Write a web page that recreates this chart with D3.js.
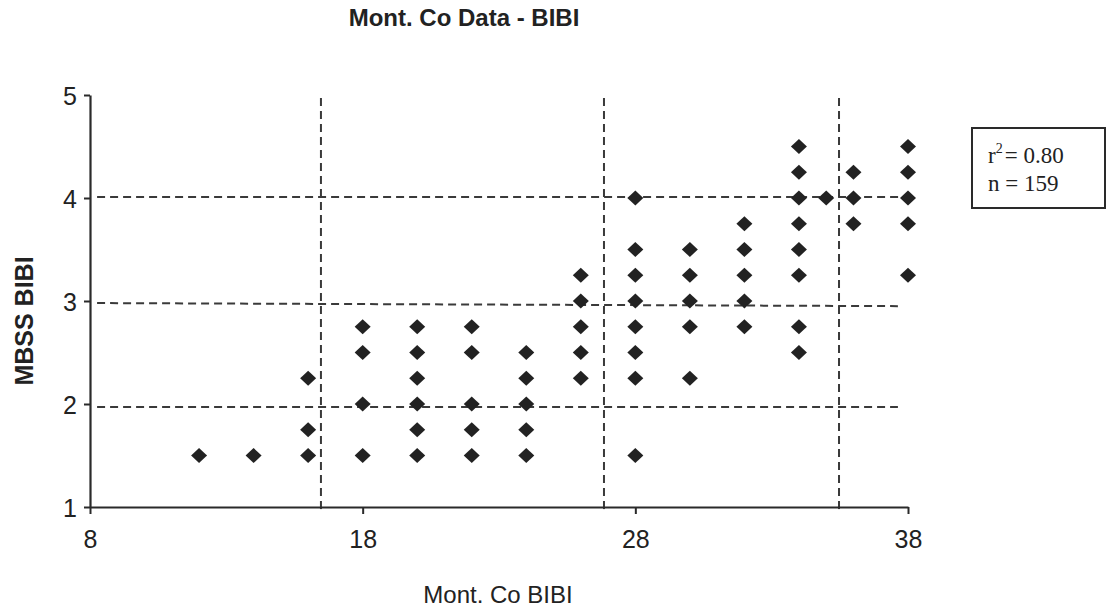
<!DOCTYPE html>
<html><head><meta charset="utf-8">
<script src="https://cdn.jsdelivr.net/npm/d3@7"></script>
<style>body{margin:0;background:#fff}svg{display:block}</style>
</head><body><svg id="c" width="1110" height="609"></svg>
<script>
// Data
const xTicks = [8, 18, 28, 38];
const yTicks = [1, 2, 3, 4, 5];
const xCats = [12, 14, 16, 18, 20, 22, 24, 26, 28, 30, 32, 34, 35, 36, 38];
const yByX = [
  [1.5],
  [1.5],
  [1.5, 1.75, 2.25],
  [1.5, 2, 2.5, 2.75],
  [1.5, 1.75, 2, 2.25, 2.5, 2.75],
  [1.5, 1.75, 2, 2.5, 2.75],
  [1.5, 1.75, 2, 2.25, 2.5],
  [2.25, 2.5, 2.75, 3, 3.25],
  [1.5, 2.25, 2.5, 2.75, 3, 3.25, 3.5, 4],
  [2.25, 2.75, 3, 3.25, 3.5],
  [2.75, 3, 3.25, 3.5, 3.75],
  [2.5, 2.75, 3.25, 3.5, 3.75, 4, 4.25, 4.5],
  [4],
  [3.75, 4, 4.25],
  [3.25, 3.75, 4, 4.25, 4.5]
];
// dashed reference lines (data units)
const vLineX = [16.47, 26.85, 35.47];
const vLineY = [0.97, 4.97];
const hLineY1 = [4.01, 2.98, 1.97];
const hLineY2 = [4.01, 2.95, 1.97];
const hLineX1 = [8.26, 8.26, 8.26];
const hLineX2 = [37.96, 37.63, 37.63];
const title = "Mont. Co Data - BIBI";
const xTitle = "Mont. Co BIBI";
const yTitle = "MBSS BIBI";

const svg = d3.select("#c");
const x = d3.scaleLinear().domain([8, 38]).range([90, 908]);
const y = d3.scaleLinear().domain([1, 5]).range([507, 95]);
const ink = "#2a2a2a";

// dashed lines
const g = svg.append("g").attr("stroke", "#3a3a3a").attr("stroke-width", 2).attr("stroke-dasharray", "8,5").attr("fill", "none");
hLineY1.forEach((v, i) => {
  g.append("line").attr("x1", x(hLineX1[i])).attr("x2", x(hLineX2[i]))
    .attr("y1", y(v)).attr("y2", y(hLineY2[i]));
});
vLineX.forEach(v => {
  g.append("line").attr("x1", x(v)).attr("x2", x(v))
    .attr("y1", y(vLineY[1])).attr("y2", y(vLineY[0]));
});

// axes
const xAxis = d3.axisBottom(x).tickValues(xTicks).tickFormat(d3.format("d")).tickSize(7).tickSizeOuter(0).tickPadding(10);
const yAxis = d3.axisLeft(y).tickValues(yTicks).tickFormat(d3.format("d")).tickSize(6).tickSizeOuter(0).tickPadding(7);
const gx = svg.append("g").attr("transform", `translate(0,${y(1)})`).call(xAxis);
const gy = svg.append("g").attr("transform", `translate(${x(8)},0)`).call(yAxis);
[gx, gy].forEach(a => {
  a.select(".domain").attr("stroke", ink).attr("stroke-width", 2.2);
  a.selectAll(".tick line").attr("stroke", ink).attr("stroke-width", 2);
  a.selectAll(".tick text").attr("fill", "#222").attr("font-family", "Liberation Sans, Arial, sans-serif").attr("font-size", 25);
});
gx.selectAll(".tick text").attr("dy", "0.95em");
gy.selectAll(".tick text").attr("dy", "0.36em");

// points
const pts = [];
xCats.forEach((xv, i) => yByX[i].forEach(yv => pts.push([xv, yv])));
svg.append("g").selectAll("path").data(pts).join("path")
  .attr("d", "M0,-7.5L8,0L0,7.5L-8,0Z")
  .attr("transform", d => `translate(${x(d[0])},${y(d[1])})`)
  .attr("fill", "#222");

// titles
svg.append("text").attr("x", 464).attr("y", 26).attr("text-anchor", "middle")
  .attr("font-family", "Liberation Sans, Arial, sans-serif").attr("font-weight", "bold").attr("font-size", 24).attr("fill", "#222").text(title);
svg.append("text").attr("x", 498).attr("y", 603).attr("text-anchor", "middle")
  .attr("font-family", "Liberation Sans, Arial, sans-serif").attr("font-size", 24).attr("fill", "#222").text(xTitle);
svg.append("text").attr("transform", "translate(33,321) rotate(-90)").attr("text-anchor", "middle")
  .attr("font-family", "Liberation Sans, Arial, sans-serif").attr("font-weight", "bold").attr("font-size", 25).attr("fill", "#222").text(yTitle);

// stats box
svg.append("rect").attr("x", 972).attr("y", 128).attr("width", 133).attr("height", 80)
  .attr("fill", "#fff").attr("stroke", ink).attr("stroke-width", 2);
const t1 = svg.append("text").attr("x", 988).attr("y", 163)
  .attr("font-family", "Liberation Serif, Times New Roman, serif").attr("font-size", 23).attr("fill", "#222");
t1.append("tspan").text("r");
t1.append("tspan").attr("dy", -10).attr("font-size", 14).text("2");
t1.append("tspan").attr("dy", 10).attr("dx", 2).text("= 0.80");
svg.append("text").attr("x", 988).attr("y", 191)
  .attr("font-family", "Liberation Serif, Times New Roman, serif").attr("font-size", 23).attr("fill", "#222").text("n = 159");
</script></body></html>
